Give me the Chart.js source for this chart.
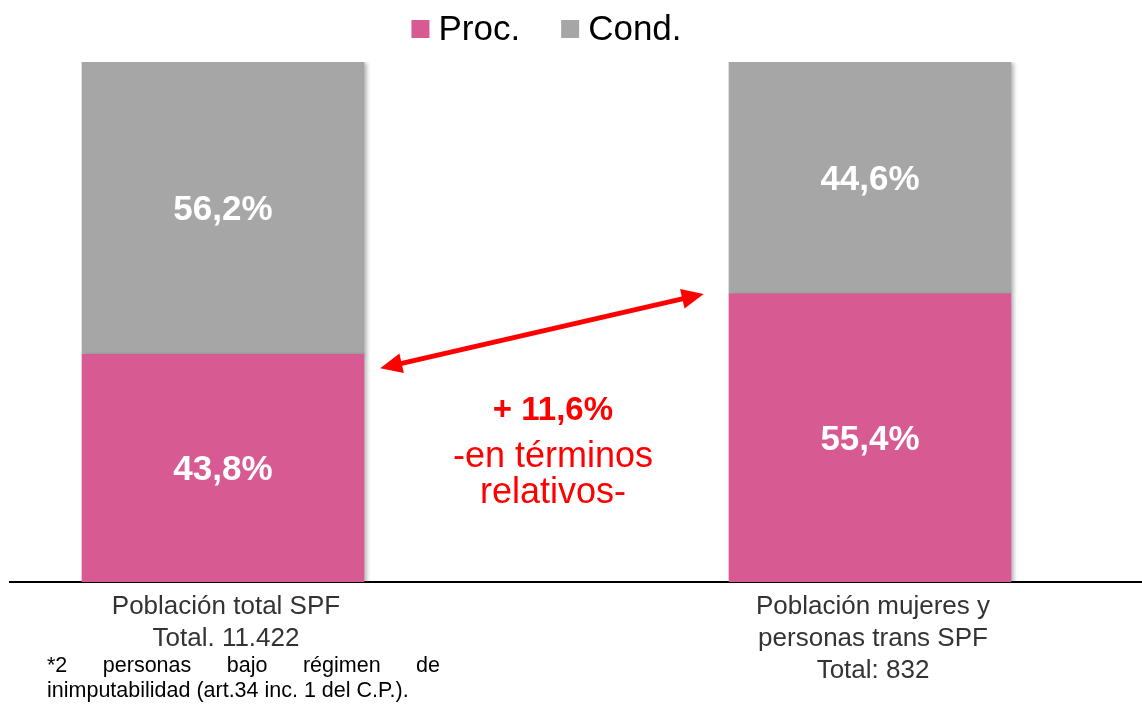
<!DOCTYPE html>
<html>
<head>
<meta charset="utf-8">
<script src="https://cdn.jsdelivr.net/npm/chart.js@4"></script>
<style>
  html, body { margin: 0; padding: 0; background: #fff; }
</style>
</head>
<body>
<canvas id="chart" width="1142" height="708"></canvas>
<script>
// datos
const categories = [
  ['Población total SPF', 'Total. 11.422'],
  ['Población mujeres y', 'personas trans SPF', 'Total: 832']
];
const positions = [0, 1];
const procValues = [43.8, 55.4];
const condValues = [56.2, 44.6];
const seriesNames = ['Proc.', 'Cond.'];
const seriesColors = ['#D85A92', '#A6A6A6'];
const footnoteLines = ['*2 personas bajo régimen de', 'inimputabilidad (art.34 inc. 1 del C.P.).'];
const diffLines = ['+ 11,6%', '-en términos', 'relativos-'];
// flecha en coordenadas de datos (x, %)
const arrowFrom = { x: 0.243, y: 41.1 };
const arrowTo = { x: 0.743, y: 55.4 };

const FONT = '"Liberation Sans", Arial, sans-serif';

function fmt(v) {
  return v.toFixed(1).replace('.', ',') + '%';
}

function drawArrowHead(ctx, tx, ty, ang, len, half) {
  ctx.beginPath();
  ctx.moveTo(tx, ty);
  ctx.lineTo(tx - len * Math.cos(ang) + half * Math.sin(ang), ty - len * Math.sin(ang) - half * Math.cos(ang));
  ctx.lineTo(tx - len * Math.cos(ang) - half * Math.sin(ang), ty - len * Math.sin(ang) + half * Math.cos(ang));
  ctx.closePath();
  ctx.fill();
}

const extras = {
  id: 'extras',
  beforeDatasetsDraw(chart) {
    const ctx = chart.ctx;
    ctx.save();
    ctx.shadowColor = 'rgba(0,0,0,0.28)';
    ctx.shadowBlur = 4;
    ctx.shadowOffsetX = 3;
    ctx.shadowOffsetY = 1;
  },
  afterDatasetsDraw(chart) {
    const ctx = chart.ctx;
    ctx.restore();

    // valores dentro de las barras
    ctx.save();
    ctx.fillStyle = '#fff';
    ctx.font = 'bold 35px ' + FONT;
    ctx.textAlign = 'center';
    ctx.textBaseline = 'middle';
    chart.data.datasets.forEach((ds, di) => {
      chart.getDatasetMeta(di).data.forEach((bar, i) => {
        ctx.fillText(fmt(ds.data[i].y), bar.x, (bar.y + bar.base) / 2 + 2);
      });
    });
    ctx.restore();
  },
  afterDraw(chart) {
    const ctx = chart.ctx;
    const xs = chart.scales.x;
    const ys = chart.scales.y;
    const area = chart.chartArea;

    // leyenda
    ctx.save();
    ctx.font = '35px ' + FONT;
    ctx.textBaseline = 'alphabetic';
    const items = chart.data.datasets.map(ds => ({
      text: ds.label,
      color: ds.backgroundColor,
      w: 18 + 9 + ctx.measureText(ds.label).width
    }));
    const gap = 41;
    const total = items.reduce((s, it) => s + it.w, 0) + gap * (items.length - 1);
    const cx = (xs.getPixelForValue(positions[0]) + xs.getPixelForValue(positions[1])) / 2;
    let lx = cx - total / 2;
    items.forEach(it => {
      ctx.fillStyle = it.color;
      ctx.fillRect(lx, 20, 18, 18);
      ctx.fillStyle = '#000';
      ctx.fillText(it.text, lx + 27, 40);
      lx += it.w + gap;
    });
    ctx.restore();

    // etiquetas de categoría
    ctx.save();
    ctx.font = '26px ' + FONT;
    ctx.fillStyle = '#333';
    ctx.textAlign = 'center';
    categories.forEach((lines, i) => {
      const px = xs.getPixelForValue(positions[i]);
      lines.forEach((t, j) => ctx.fillText(t, px + 3, area.bottom + 32 + j * 32));
    });
    ctx.restore();

    // nota al pie (justificada)
    ctx.save();
    ctx.font = '21.5px ' + FONT;
    ctx.fillStyle = '#000';
    const left = 47, right = 440;
    const words = footnoteLines[0].split(' ');
    const ww = words.map(w => ctx.measureText(w).width);
    const space = (right - left - ww.reduce((a, b) => a + b, 0)) / (words.length - 1);
    let fx = left;
    words.forEach((w, k) => { ctx.fillText(w, fx, 672); fx += ww[k] + space; });
    ctx.fillText(footnoteLines[1], left, 697);
    ctx.restore();

    // flecha doble
    ctx.save();
    const x1 = xs.getPixelForValue(arrowFrom.x), y1 = ys.getPixelForValue(arrowFrom.y);
    const x2 = xs.getPixelForValue(arrowTo.x), y2 = ys.getPixelForValue(arrowTo.y);
    const ang = Math.atan2(y2 - y1, x2 - x1);
    const hl = 22;
    ctx.strokeStyle = '#FF0000';
    ctx.fillStyle = '#FF0000';
    ctx.lineWidth = 5;
    ctx.beginPath();
    ctx.moveTo(x1 + hl * 0.8 * Math.cos(ang), y1 + hl * 0.8 * Math.sin(ang));
    ctx.lineTo(x2 - hl * 0.8 * Math.cos(ang), y2 - hl * 0.8 * Math.sin(ang));
    ctx.stroke();
    drawArrowHead(ctx, x2, y2, ang, hl, 10);
    drawArrowHead(ctx, x1, y1, ang + Math.PI, hl, 10);

    // texto de diferencia
    const tx = xs.getPixelForValue(0.51);
    ctx.textAlign = 'center';
    ctx.font = 'bold 33px ' + FONT;
    ctx.fillText(diffLines[0], tx, 420);
    ctx.font = '36px ' + FONT;
    ctx.fillText(diffLines[1], tx, 467);
    ctx.fillText(diffLines[2], tx, 503);
    ctx.restore();
  }
};

new Chart(document.getElementById('chart'), {
  type: 'bar',
  data: {
    datasets: [
      {
        label: seriesNames[0],
        data: procValues.map((v, i) => ({ x: positions[i], y: v })),
        backgroundColor: seriesColors[0],
        borderWidth: 0,
        barThickness: 282
      },
      {
        label: seriesNames[1],
        data: condValues.map((v, i) => ({ x: positions[i], y: v })),
        backgroundColor: seriesColors[1],
        borderWidth: 0,
        barThickness: 282
      }
    ]
  },
  options: {
    responsive: false,
    animation: false,
    layout: { padding: { top: 62, bottom: 126, left: 10, right: 0 } },
    plugins: {
      legend: { display: false },
      tooltip: { enabled: false }
    },
    scales: {
      x: {
        type: 'linear',
        min: -0.3292,
        max: 1.4204,
        offset: false,
        stacked: true,
        grid: { display: false, drawTicks: false },
        ticks: { display: false },
        border: { display: true, color: '#000', width: 2 }
      },
      y: {
        display: false,
        stacked: true,
        min: 0,
        max: 100
      }
    }
  },
  plugins: [extras]
});
</script>
</body>
</html>
